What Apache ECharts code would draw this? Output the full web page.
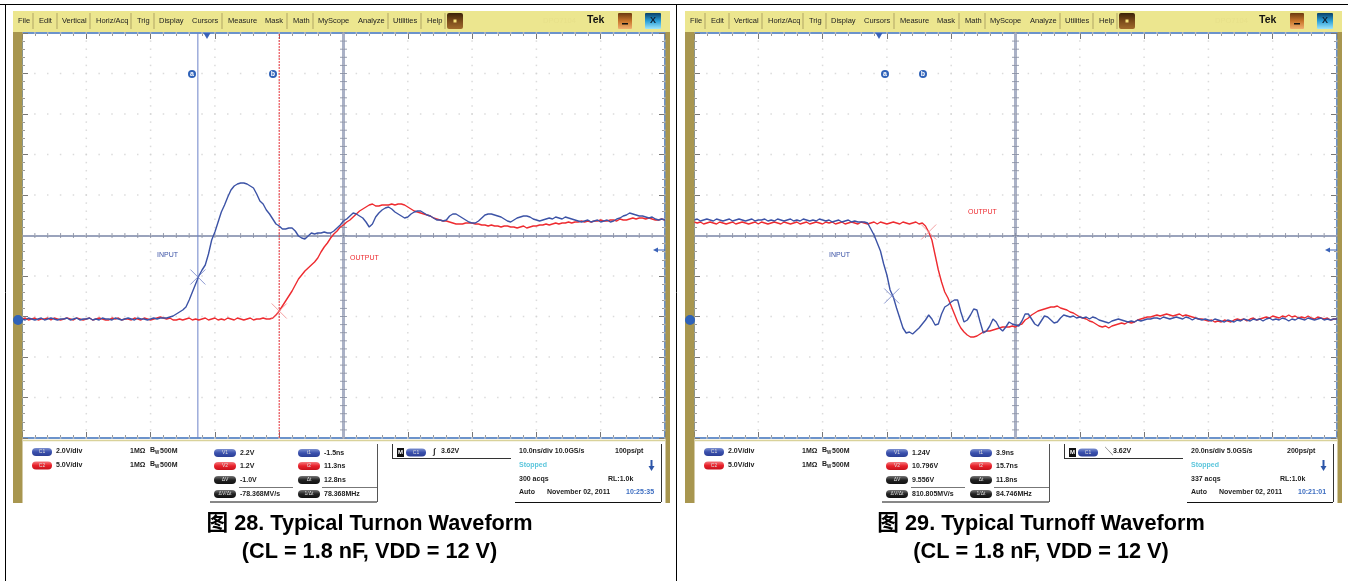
<!DOCTYPE html>
<html><head><meta charset="utf-8">
<style>html,body{margin:0;padding:0;background:#fff}#c{width:1348px;height:581px}#c canvas{filter:blur(.35px)}</style>
<script src="https://cdn.jsdelivr.net/npm/echarts@6/dist/echarts.min.js"></script>
</head><body><div id="c"></div>
<script>
// Traces: 20 samples per horizontal division, 40.5 counts per vertical division
const turnonInput=[119,118,120,119,118,119,120,118,119,120,119,118,119,119,120,118,119,120,118,119,119,120,118,119,118,120,119,119,118,120,119,118,119,120,119,118,120,119,119,118,119,120,119,120,120,120,121,122,124,126,128,131,138,146,154,162,168,173,184,198,206,216,226,233,241,248,252,254,255,255,254,252,250,244,237,234,228,224,219,214,212,209,209,210,210,207,202,200,199,202,205,204,205,205,206,205,205,207,210,213,217,219,222,225,224,222,220,216,211,214,221,225,228,230,231,229,226,224,222,220,221,224,226,227,227,225,223,222,220,218,218,217,218,222,224,224,222,220,218,216,215,215,217,220,223,224,224,223,222,221,219,217,216,218,220,221,222,222,221,219,218,217,218,219,220,219,221,220,219,221,220,219,218,217,216,217,218,216,217,218,216,217,218,216,217,219,220,222,223,225,224,223,222,222,221,220,221,219,218,219,218];
const turnonOutput=[119,120,118,119,120,118,119,119,120,118,120,119,118,119,120,119,118,120,119,118,119,120,118,119,120,119,118,118,120,119,120,118,119,119,118,120,119,118,120,119,118,119,120,121,120,119,120,118,118,119,118,119,120,118,119,118,119,120,118,119,120,118,119,118,120,119,118,120,119,118,119,120,118,119,119,120,119,119,120,123,127,132,137,142,147,153,159,163,167,170,173,176,180,186,191,195,200,204,207,211,213,216,218,221,224,227,229,231,233,234,232,232,233,233,233,234,233,234,234,233,231,229,227,226,225,224,223,222,220,219,218,217,217,216,215,214,214,214,215,215,215,214,214,213,213,212,213,212,212,211,212,212,211,211,210,211,212,210,211,212,212,213,213,214,213,214,215,214,215,215,216,215,216,216,217,216,217,216,217,217,218,217,217,218,218,217,219,218,218,219,220,219,220,220,219,220,219,218,218,219,218];
const turnoffInput=[218,219,217,218,219,218,217,219,218,217,218,219,217,218,219,218,217,218,219,217,218,218,219,217,218,217,219,218,217,218,219,217,218,217,219,218,217,218,217,219,218,217,218,216,217,218,216,217,218,216,217,216,216,216,215,209,203,195,187,174,163,148,141,130,120,110,105,106,104,107,110,114,118,123,119,113,114,124,131,133,136,138,138,126,116,118,123,129,128,116,105,107,112,119,116,110,107,111,116,114,113,112,117,124,124,119,114,112,117,122,121,118,115,116,120,123,122,121,122,120,121,120,121,119,121,120,118,117,116,115,117,118,119,118,117,116,117,116,118,117,118,119,119,120,120,119,121,120,119,120,121,120,119,121,120,118,120,119,118,119,118,117,119,118,117,116,118,117,116,118,117,119,118,117,119,118,119,117,119,120,118,119,118,120,119,117,119,118,120,119,118,120,119,118,119,120,118,119,118,119,119];
const turnoffOutput=[216,215,216,214,215,216,215,214,216,215,214,215,216,214,215,216,215,214,215,216,214,216,215,214,215,216,215,214,216,215,214,215,216,214,215,216,214,215,216,215,214,216,215,216,214,215,216,214,215,216,215,214,216,215,214,215,216,214,216,215,214,215,216,215,214,216,215,214,215,216,214,215,212,206,198,183,168,156,146,140,132,124,116,110,106,103,101,101,102,104,106,107,107,108,109,110,111,111,111,112,111,113,114,118,120,123,125,127,128,129,130,131,131,132,130,129,128,126,125,123,121,120,119,117,116,114,112,111,112,110,112,113,114,115,114,116,115,116,118,119,120,121,121,122,123,122,123,124,123,122,123,124,122,123,122,121,120,119,119,118,117,118,116,117,116,118,117,116,118,119,118,119,117,119,120,118,119,120,121,120,122,121,120,122,121,123,121,122,120,121,120,122,120,119,121,120,119,120,118,119,119];
const xDivisions=[0,20,40,60,80,100,120,140,160,180,200];
const yDivisions=[0,40.5,81,121.5,162,202.5,243,283.5,324,364.5,405];
const menuLabels=['File','Edit','Vertical','Horiz/Acq','Trig','Display','Cursors','Measure','Mask','Math','MyScope','Analyze','Utilities','Help'];
const menuX=[18,39,62,96,137,159,192,228,265,293,318,358,393,427];
const menuSep=[33,57,90,131,154,222,287,313,388,421,445];
const titles=['图 28. Typical Turnon Waveform','图 29. Typical Turnoff Waveform'];
const subtitle='(CL = 1.8 nF, VDD = 12 V)';
const measNames=['V1','V2','ΔV','ΔV/Δt'];
const timeNames=['t1','t2','Δt','1/Δt'];
const measValues=[['2.2V','1.2V','-1.0V','-78.368MV/s'],['1.24V','10.796V','9.556V','810.805MV/s']];
const timeValues=[['-1.5ns','11.3ns','12.8ns','78.368MHz'],['3.9ns','15.7ns','11.8ns','84.746MHz']];
const timebase=[['10.0ns/div 10.0GS/s','100ps/pt','300 acqs','10:25:35'],['20.0ns/div 5.0GS/s','200ps/pt','337 acqs','10:21:01']];
const slopeSymbol=['∫','╲'];
const cursorMarks=[[[54.7,161],[80,127]],[[61.5,142],[73,206]]];
const cursorLines=[[54.7,80],[]];
const FONT='"Liberation Sans","Noto Sans CJK SC",sans-serif';
const g=[];
const rect=(x,y,w,h,fill,r)=>g.push({type:'rect',z:10,silent:true,shape:{x,y,width:w,height:h,r:r||0},style:{fill}});
const txt=(x,y,text,o={})=>g.push({type:'text',z:11,silent:true,x,y,style:{text,fill:o.c||'#1c1c1c',fontSize:o.s||7,fontWeight:o.w||'bold',fontFamily:FONT,align:o.a||'left',verticalAlign:'middle'}});
const line=(x1,y1,x2,y2,c,w)=>g.push({type:'line',z:10,silent:true,shape:{x1,y1,x2,y2},style:{stroke:c,lineWidth:w||1}});
const poly=(pts,fill)=>g.push({type:'polygon',z:11,silent:true,shape:{points:pts},style:{fill}});
const grad=(...cs)=>({type:'linear',x:0,y:0,x2:0,y2:1,colorStops:cs.map((c,i)=>({offset:i/(cs.length-1),color:c}))});
const pill=(x,y,w,kind,label)=>{const f={b:grad('#7d90cf','#3a50ad','#2c3f95'),r:grad('#f47a7d','#e8202a','#c5121c'),k:grad('#777','#222','#111')}[kind];
  g.push({type:'rect',z:10,silent:true,shape:{x,y:y-4,width:w,height:8,r:4},style:{fill:f}});
  txt(x+w/2,y,label,{s:5,c:'#ddd',a:'center',w:'normal'});};
const BLUE='#3c53a6',RED='#ee2b30';
// page border
line(0,4.5,1348,4.5,'#000',1);line(5.5,4,5.5,581,'#000',1);line(676.5,4,676.5,581,'#000',1);
[0,672].forEach((dx,p)=>{
  rect(13+dx,11,657,21,'#ece68f');
  rect(13+dx,32,9.5,471,'#a8964f');rect(665.5+dx,32,4.5,471,'#a8964f');
  line(23+dx,440.5,665+dx,440.5,'#d9d29a',1.5);
  menuLabels.forEach((m,i)=>txt(menuX[i]+dx,21,m,{s:7.5,w:'normal',c:'#222'}));
  menuSep.forEach(x=>line(x+dx,13,x+dx,29,'#b0a565',1));
  g.push({type:'rect',z:10,silent:true,shape:{x:447+dx,y:13,width:16,height:16,r:2},style:{fill:grad('#3b2208','#7a4a1a','#a06a2c')}});
  rect(453.5+dx,19.5,3,3,'#f6e27a');
  txt(543+dx,20.5,'DPO7104',{s:7.5,c:'#e7e08a',w:'normal'});
  txt(587+dx,20.5,'Tek',{s:10.5,c:'#111'});
  g.push({type:'rect',z:10,silent:true,shape:{x:618+dx,y:13,width:14,height:16,r:1},style:{fill:grad('#6b3a10','#c8742a','#f0b070')}});
  rect(622+dx,23,6,1.5,'#111');
  g.push({type:'rect',z:10,silent:true,shape:{x:645+dx,y:13,width:16,height:16,r:1},style:{fill:grad('#0a3f66','#2a9fd8','#a0e6fa')}});
  txt(653+dx,21,'X',{s:9,a:'center',c:'#123'});
  // channel rows
  pill(32+dx,452,20,'b','C1');pill(32+dx,465.5,20,'r','C2');
  [['2.0V/div',451.5],['5.0V/div',465]].forEach(r=>{
    txt(56+dx,r[1],r[0]);txt(130+dx,r[1],'1MΩ');txt(150+dx,r[1]-1,'B');txt(155+dx,r[1]+1.5,'W',{s:4.5});txt(160+dx,r[1],'500M');});
  // measurement rows
  [453,466,480,494].forEach((y,i)=>{
    pill(214+dx,y,22,['b','r','k','k'][i],measNames[i]);txt(240+dx,y,measValues[p][i]);
    pill(298+dx,y,22,['b','r','k','k'][i],timeNames[i]);txt(324+dx,y,timeValues[p][i]);});
  line(239+dx,487.5,293+dx,487.5,'#777',1);line(322+dx,487.5,377+dx,487.5,'#777',1);
  line(210+dx,502,377+dx,502,'#111',1);line(377.5+dx,444,377.5+dx,502,'#555',1);
  // trigger box
  line(392.5+dx,444,392.5+dx,458,'#333',1);line(392+dx,458.5,511+dx,458.5,'#333',1);
  rect(397+dx,448,7,9,'#111');txt(400.5+dx,452.5,'M',{s:6,c:'#fff',a:'center'});
  pill(406+dx,452.5,20,'b','C1');txt(433+dx,452,slopeSymbol[p],{s:8});txt(441+dx,451.5,'3.62V');
  // timebase box
  line(661.5+dx,444,661.5+dx,502,'#333',1);line(515+dx,502.5,661+dx,502.5,'#111',1);
  txt(519+dx,451.5,timebase[p][0]);txt(615+dx,451.5,timebase[p][1]);
  txt(519+dx,465.5,'Stopped',{c:'#5cc6dc'});
  rect(650.5+dx,460,2,7,'#2c55a8');poly([[648.5+dx,466],[654.5+dx,466],[651.5+dx,471]],'#2c55a8');
  txt(519+dx,479,timebase[p][2]);txt(608+dx,479,'RL:1.0k');
  txt(519+dx,492,'Auto');txt(547+dx,492,'November 02, 2011');txt(626+dx,492,timebase[p][3],{c:'#3b6cc0'});
  // on-screen markers
  poly([[203.5+dx,33],[210.5+dx,33],[207+dx,39]],'#3a62b8');
  g.push({type:'circle',z:12,silent:true,shape:{cx:18+dx,cy:320,r:5},style:{fill:'#2f62b8'}});
  poly([[653+dx,250],[658+dx,247.5],[658+dx,252.5]],'#3a62b8');line(657+dx,250,665+dx,250,'#3a62b8',1);
  const captionX=[369.5,1041][p];
  txt(captionX,524,titles[p],{s:21.7,a:'center',c:'#000'});
  txt(captionX,552,subtitle,{s:21.7,a:'center',c:'#000'});
});
// handles and labels over the traces
[[192,'a'],[273,'b'],[885,'a'],[923,'b']].forEach(h=>{
  g.push({type:'circle',z:12,silent:true,shape:{cx:h[0],cy:74,r:4},style:{fill:'#2f62b8'}});
  g.push({type:'text',z:13,silent:true,x:h[0],y:74,style:{text:h[1],fill:'#fff',fontSize:7,fontWeight:'bold',fontFamily:FONT,align:'center',verticalAlign:'middle'}});});
txt(157,255,'INPUT',{s:7,c:BLUE,w:'normal'});txt(350,258,'OUTPUT',{s:7,c:RED,w:'normal'});
txt(829,255,'INPUT',{s:7,c:BLUE,w:'normal'});txt(968,212,'OUTPUT',{s:7,c:RED,w:'normal'});

// chart structure
const grids=[{left:22,top:33,width:643,height:405},{left:694,top:33,width:643,height:405}];
const xAxes=[],yAxes=[],series=[];
const axisBase=()=>({axisLabel:{show:false},splitLine:{show:false},
  axisLine:{show:true,onZero:false,lineStyle:{color:'#6c93cb',width:2}},
  axisTick:{show:true,inside:true,length:6,lineStyle:{color:'#777',width:1}},
  minorTick:{show:true,splitNumber:5,length:3,lineStyle:{color:'#999',width:1}},silent:true});
grids.forEach((_,i)=>{
  ['bottom','top'].forEach(pos=>xAxes.push({...axisBase(),type:'value',gridIndex:i,position:pos,min:0,max:200,interval:20}));
  ['left','right'].forEach(pos=>yAxes.push({...axisBase(),type:'value',gridIndex:i,position:pos,min:0,max:405,interval:40.5}));
});
const dots=[],hTicks=[],vTicks=[];
xDivisions.forEach(x=>{for(let k=0;k<50;k++)dots.push([x,k*8.1]);});
yDivisions.forEach(y=>{for(let k=0;k<50;k++)dots.push([k*4,y]);});
for(let k=0;k<=50;k++)hTicks.push([k*4,202.5]);
for(let k=0;k<=50;k++)vTicks.push([100,k*8.1]);
const traces=[[turnonInput,turnonOutput],[turnoffInput,turnoffOutput]];
traces.forEach((tr,i)=>{
  const ax=i*2;
  series.push({type:'scatter',xAxisIndex:ax,yAxisIndex:ax,data:dots,symbol:'rect',symbolSize:1.5,silent:true,itemStyle:{color:'#d2d2d2'},animation:false,z:1,
    markLine:{silent:true,symbol:'none',animation:false,label:{show:false},z:1,data:[
      {yAxis:202.5,lineStyle:{color:'#9aa3bc',width:2,type:'solid'}},
      {xAxis:100,lineStyle:{color:'#aab1c6',width:3,type:'solid'}}]}});
  series.push({type:'scatter',xAxisIndex:ax,yAxisIndex:ax,data:hTicks,symbol:'rect',symbolSize:[1,5],silent:true,itemStyle:{color:'#7f879e'},animation:false,z:1});
  series.push({type:'scatter',xAxisIndex:ax,yAxisIndex:ax,data:vTicks,symbol:'rect',symbolSize:[7,1],silent:true,itemStyle:{color:'#7f879e'},animation:false,z:1});
  // cursors, drawn beneath the traces
  if(cursorLines[i].length){
    series.push({type:'line',name:'cursor 1',xAxisIndex:ax,yAxisIndex:ax,data:[[cursorLines[i][0],0],[cursorLines[i][0],405]],showSymbol:false,symbol:'none',animation:false,silent:true,z:2,lineStyle:{color:'#6c83c8',width:1,type:'solid'}});
    series.push({type:'line',name:'cursor 2',xAxisIndex:ax,yAxisIndex:ax,data:[[cursorLines[i][1],0],[cursorLines[i][1],405]],showSymbol:false,symbol:'none',animation:false,silent:true,z:2,lineStyle:{color:'#e8343c',width:1,type:[2,1]}});
  }
  const idx=tr[0].map((_,k)=>k);
  series.push({type:'line',name:'OUTPUT',xAxisIndex:ax,yAxisIndex:ax,data:tr[1].map((v,k)=>[idx[k],v]),showSymbol:false,symbol:'none',animation:false,silent:true,z:3,lineStyle:{color:RED,width:1.4},itemStyle:{color:RED}});
  series.push({type:'line',name:'INPUT',xAxisIndex:ax,yAxisIndex:ax,data:tr[0].map((v,k)=>[idx[k],v]),showSymbol:false,symbol:'none',animation:false,silent:true,z:4,lineStyle:{color:BLUE,width:1.4},itemStyle:{color:BLUE}});
  const cross='path://M0 0L10 10M10 0L0 10';
  series.push({type:'scatter',xAxisIndex:ax,yAxisIndex:ax,data:[cursorMarks[i][0]],symbol:cross,symbolSize:15,silent:true,animation:false,z:5,itemStyle:{color:'none',borderColor:'#6f80c4',borderWidth:1}});
  series.push({type:'scatter',xAxisIndex:ax,yAxisIndex:ax,data:[cursorMarks[i][1]],symbol:cross,symbolSize:15,silent:true,animation:false,z:5,itemStyle:{color:'none',borderColor:'#f08a8c',borderWidth:1}});
});
const chart=echarts.init(document.getElementById('c'),null,{renderer:'canvas'});
chart.setOption({animation:false,backgroundColor:'#fff',grid:grids,xAxis:xAxes,yAxis:yAxes,series,graphic:{elements:g}});
</script></body></html>
